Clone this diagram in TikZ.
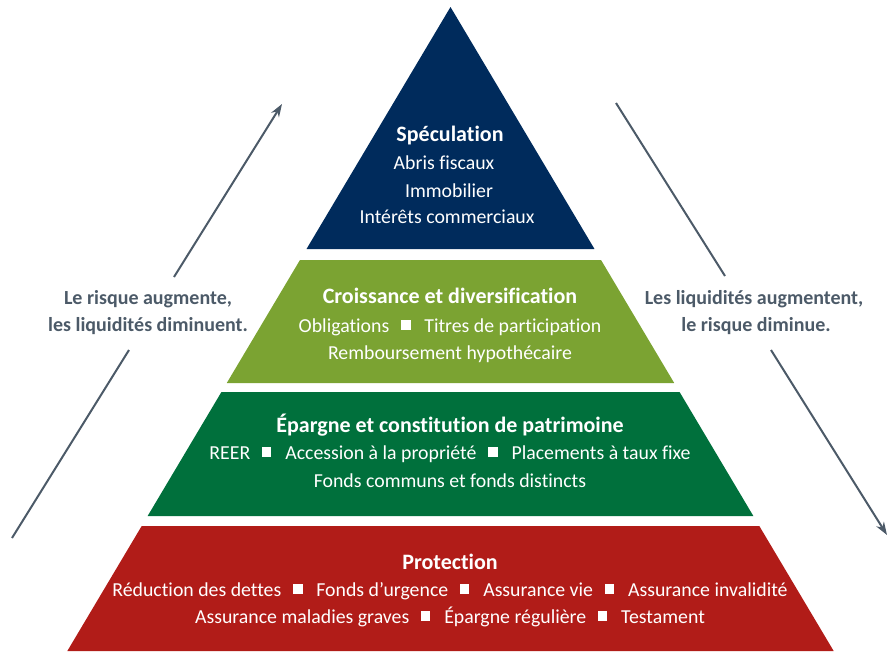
\documentclass[tikz,border=0pt]{standalone}
\usepackage{fontspec}
\setmainfont{Carlito}[Ligatures=NoCommon]
\usetikzlibrary{arrows.meta}
\definecolor{navy}{HTML}{002B5C}
\definecolor{lightgreen}{HTML}{7BA332}
\definecolor{darkgreen}{HTML}{00703C}
\definecolor{brick}{HTML}{B11C18}
\definecolor{slate}{HTML}{4C5A68}
\newcommand{\puce}{\hspace{0.6em}\rule[0.12em]{0.47em}{0.47em}\hspace{0.7em}}

\begin{document}
\begin{tikzpicture}[x=1pt,y=-1pt,
  body/.style={anchor=base,text=white,inner sep=0pt,font=\fontsize{19.8}{24}\selectfont},
  title/.style={anchor=base,text=white,inner sep=0pt,font=\fontsize{22}{26}\selectfont\bfseries},
  side/.style={anchor=base,text=slate,inner sep=0pt,font=\fontsize{20}{24}\selectfont\bfseries},
  fleche/.style={draw=slate,line width=2pt}]
\useasboundingbox (0,0) rectangle (894,651);

% pyramid bands
\fill[navy] (450.5,7) -- ({450.5-0.595*242},249) -- ({450.5+0.595*242},249) -- cycle;
\foreach \ya/\yb/\col in {260/383/lightgreen, 392/516/darkgreen, 526/651/brick}
  \fill[\col] ({450.5-0.595*(\ya-7)},\ya) -- ({450.5+0.595*(\ya-7)},\ya)
    -- ({450.5+0.595*(\yb-7)},\yb) -- ({450.5-0.595*(\yb-7)},\yb) -- cycle;

\node[title] (spec) at (450,141) {Spéculation};
\node[body] (abris) at (444,169) {Abris fiscaux};
\node[body] (immo) at (449,197) {Immobilier};
\node[body] (inter) at (447,223) {Intérêts commerciaux};

\node[title] (crois) at (450,303) {Croissance et diversification};
\node[body] (oblig) at (450,332) {Obligations\puce Titres de participation};
\node[body] (remb) at (450,359) {Remboursement hypothécaire};

\node[title] (epar) at (450,432) {Épargne et constitution de patrimoine};
\node[body] (reer) at (450,459) {REER\puce Accession à la propriété\puce Placements à taux fixe};
\node[body] (fonds) at (450,487) {Fonds communs et fonds distincts};

\node[title] (prot) at (450,569) {Protection};
\node[body] (redu) at (450,596) {Réduction des dettes\puce Fonds d’urgence\puce Assurance vie\puce Assurance invalidité};
\node[body] (assu) at (450,623) {Assurance maladies graves\puce Épargne régulière\puce Testament};

\node[side] (risque1) at (148,304) {Le risque augmente,};
\node[side] (risque2) at (148,331) {les liquidités diminuent.};
\node[side] (liq1) at (754,304) {Les liquidités augmentent,};
\node[side] (liq2) at (756,331) {le risque diminue.};

\coordinate (gA) at (12,538);
\coordinate (gB) at (129,350);
\coordinate (gC) at (174,277);
\coordinate (gD) at (282,104);
\coordinate (dA) at (616,103);
\coordinate (dB) at (725,276);
\coordinate (dC) at (771,350);
\coordinate (dD) at (887,535);

\path[fleche] (gA) -- (gB);
\path[fleche,-{Stealth[length=13pt,width=9pt]}] (gC) -- (gD);
\path[fleche] (dA) -- (dB);
\path[fleche,-{Stealth[length=13pt,width=9pt]}] (dC) -- (dD);
\end{tikzpicture}
\end{document}
